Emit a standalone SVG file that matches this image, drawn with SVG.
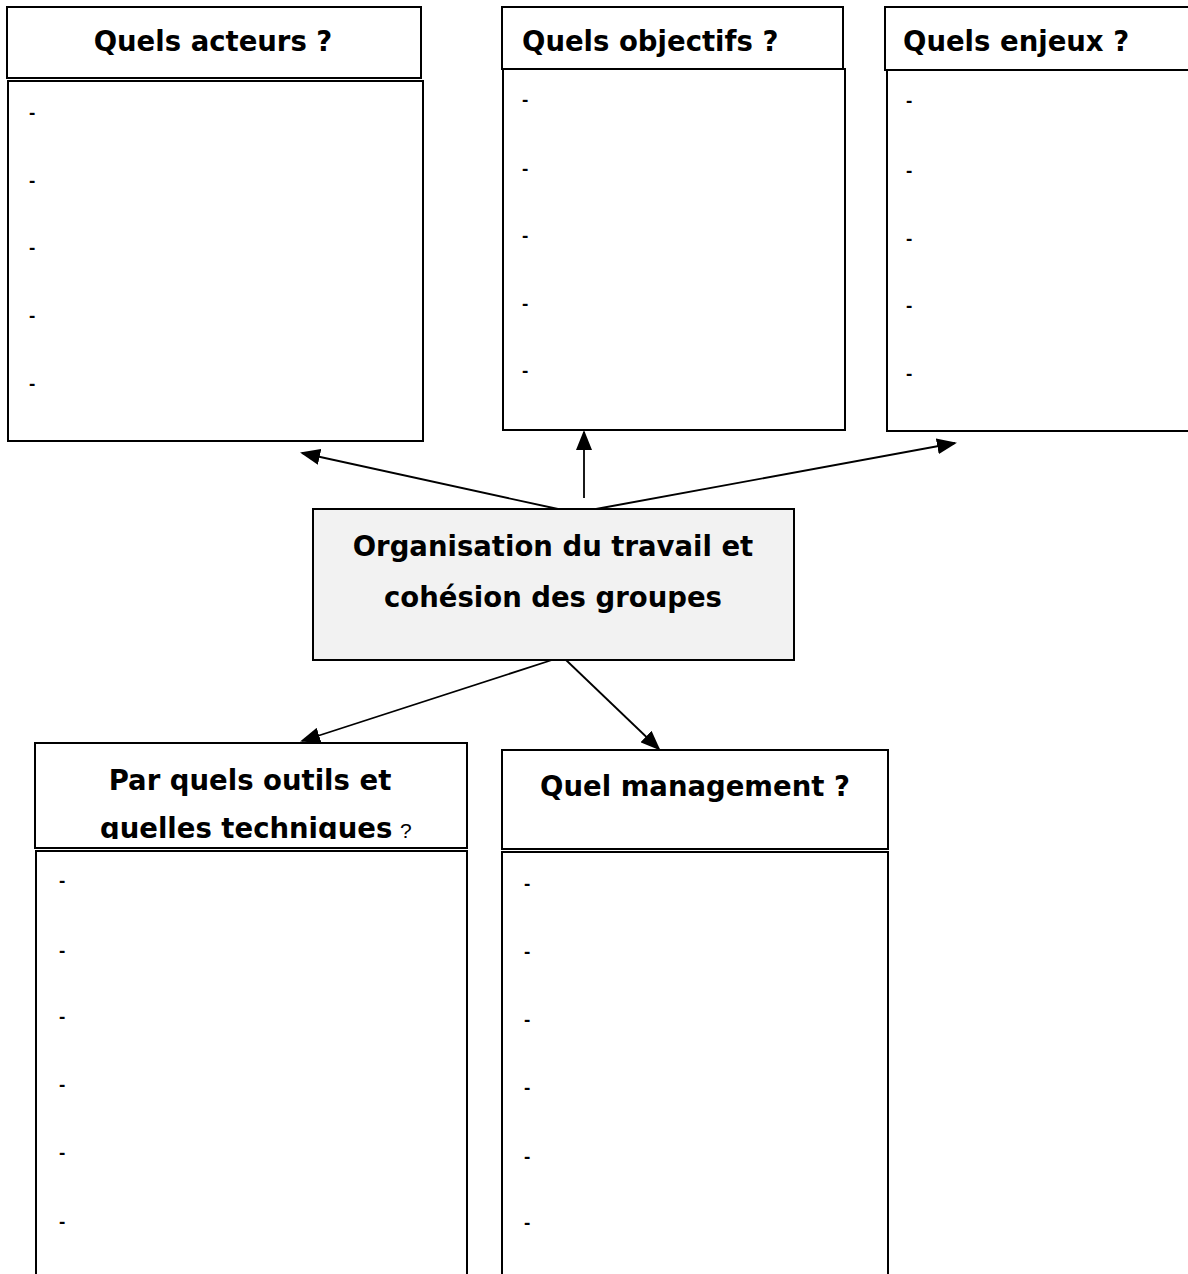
<svg xmlns="http://www.w3.org/2000/svg" width="1188" height="1274" viewBox="0 0 1188 1274">
<style>
.box{fill:#fff;stroke:#000;stroke-width:2}
.core{fill:#f2f2f2;stroke:#000;stroke-width:2}
.h{font-family:"DejaVu Sans","Liberation Sans",sans-serif;font-weight:bold;font-size:27.5px;fill:#000}
.d{font-family:"Liberation Sans",Arial,sans-serif;font-weight:bold;font-size:19px;fill:#000}
.q{font-family:"Liberation Sans",Arial,sans-serif;font-size:21px;fill:#000}
.c{stroke:#000;stroke-width:1.8;fill:none}
</style>
<defs>
<marker id="a" viewBox="0 0 10 10" refX="9" refY="5" markerWidth="20" markerHeight="16" markerUnits="userSpaceOnUse" orient="auto" preserveAspectRatio="none">
<path d="M0,0 L10,5 L0,10 z" fill="#000"/>
</marker>
<clipPath id="clipD"><rect x="35" y="743" width="432" height="96"/></clipPath>
</defs>

<g id="acteurs">
<rect class="box" x="7" y="7" width="414" height="71"/>
<rect class="box" x="8" y="81" width="415" height="360"/>
<text class="h" x="213" y="51" text-anchor="middle">Quels acteurs ?</text>
<text class="d" x="29" y="119">-</text>
<text class="d" x="29" y="187">-</text>
<text class="d" x="29" y="254">-</text>
<text class="d" x="29" y="322">-</text>
<text class="d" x="29" y="390">-</text>
</g>

<g id="objectifs">
<rect class="box" x="502" y="7" width="341" height="62"/>
<rect class="box" x="503" y="69" width="342" height="361"/>
<text class="h" x="522" y="51">Quels objectifs ?</text>
<text class="d" x="522" y="106">-</text>
<text class="d" x="522" y="175">-</text>
<text class="d" x="522" y="242">-</text>
<text class="d" x="522" y="310">-</text>
<text class="d" x="522" y="377">-</text>
</g>

<g id="enjeux">
<rect class="box" x="885" y="7" width="310" height="63"/>
<rect class="box" x="887" y="70" width="310" height="361"/>
<text class="h" x="903" y="51">Quels enjeux ?</text>
<text class="d" x="906" y="107">-</text>
<text class="d" x="906" y="177">-</text>
<text class="d" x="906" y="245">-</text>
<text class="d" x="906" y="312">-</text>
<text class="d" x="906" y="380">-</text>
</g>

<g id="centre">
<rect class="core" x="313" y="509" width="481" height="151"/>
<text class="h" x="553" y="556" text-anchor="middle">Organisation du travail et</text>
<text class="h" x="553" y="607" text-anchor="middle">cohésion des groupes</text>
</g>

<g id="outils">
<rect class="box" x="35" y="743" width="432" height="105"/>
<rect class="box" x="36" y="851" width="431" height="430"/>
<text class="h" x="250" y="790" text-anchor="middle">Par quels outils et</text>
<text class="h" x="100" y="838" clip-path="url(#clipD)">quelles techniques</text>
<text class="q" x="400" y="838">?</text>
<text class="d" x="59" y="887">-</text>
<text class="d" x="59" y="957">-</text>
<text class="d" x="59" y="1023">-</text>
<text class="d" x="59" y="1091">-</text>
<text class="d" x="59" y="1159">-</text>
<text class="d" x="59" y="1228">-</text>
</g>

<g id="management">
<rect class="box" x="502" y="750" width="386" height="99"/>
<rect class="box" x="502" y="852" width="386" height="430"/>
<text class="h" x="695" y="796" text-anchor="middle">Quel management ?</text>
<text class="d" x="524" y="890">-</text>
<text class="d" x="524" y="958">-</text>
<text class="d" x="524" y="1026">-</text>
<text class="d" x="524" y="1094">-</text>
<text class="d" x="524" y="1163">-</text>
<text class="d" x="524" y="1229">-</text>
</g>

<g id="connectors">
<line class="c" x1="558" y1="509" x2="302" y2="453" marker-end="url(#a)"/>
<line class="c" x1="584" y1="498" x2="584" y2="432" marker-end="url(#a)"/>
<line class="c" x1="596" y1="509" x2="955" y2="443" marker-end="url(#a)"/>
<line class="c" x1="552" y1="660" x2="302" y2="741" marker-end="url(#a)"/>
<line class="c" x1="566" y1="660" x2="659" y2="749" marker-end="url(#a)"/>
</g>
</svg>
